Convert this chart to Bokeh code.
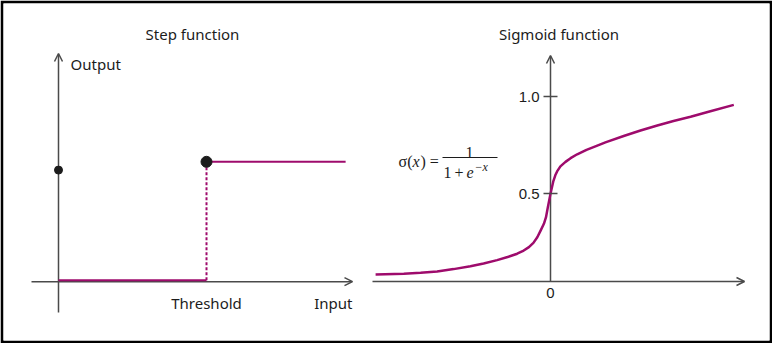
from bokeh.plotting import figure
from bokeh.models import (Range1d, LinearAxis, FixedTicker, NumeralTickFormatter,
                          Arrow, OpenHead, Label)
from bokeh.embed import file_html
from bokeh.resources import INLINE

# ---------------- data ----------------
# Step function
step_x = [0.0, 1.0, 1.0, 1.94]
step_y = [0.0, 0.0, 1.0, 1.0]
threshold_x = 1.0
output_dot_y = 0.93

# Sigmoid function
sig_x = [-5.83, -4.89, -4.33, -3.78, -3.23, -2.67, -2.23, -1.78, -1.43, -1.11,
         -0.93, -0.72, -0.57, -0.44, -0.33, -0.22, -0.15, -0.09, 0.0, 0.09,
         0.16, 0.22, 0.33, 0.5, 0.67, 0.89, 1.2, 1.56, 1.83, 2.44, 3.0,
         3.56, 4.1, 4.67, 5.33, 6.11]
sig_y = [0.085, 0.089, 0.094, 0.101, 0.113, 0.128, 0.142, 0.159, 0.175, 0.192,
         0.205, 0.226, 0.248, 0.277, 0.311, 0.346, 0.380, 0.43, 0.5, 0.562,
         0.595, 0.615, 0.641, 0.664, 0.683, 0.703, 0.726, 0.748, 0.764, 0.797, 0.825,
         0.851, 0.874, 0.896, 0.924, 0.957]
sig_yticks = [0.5, 1.0]
sig_xticks = [0.0]

# ---------------- geometry ----------------
W, H, B = 772, 343, 3
S_OX, S_OY, S_PX, S_PY = 58.0, 279.7, 148.0, 118.4   # step panel
G_OX, G_OY, G_PX, G_PY = 550.0, 290.6, 30.0, 194.6   # sigmoid panel


def xr(ox, ppu):
    return Range1d((B - ox) / ppu, (W - B - ox) / ppu)


def yr(oy, ppu):
    return Range1d((oy - (H - B)) / ppu, (oy - B) / ppu)


def sx(px): return (px - S_OX) / S_PX
def sy(py): return (S_OY - py) / S_PY
def gx(px): return (px - G_OX) / G_PX
def gy(py): return (G_OY - py) / G_PY


MAG = "#9e0b6c"
AX = "#4a4a4a"
DOT = "#1c1c1c"
TXT = "#1c1c1c"
SANS = "Noto Sans"
SERIF = "Liberation Serif"

p = figure(width=W, height=H, x_range=xr(S_OX, S_PX), y_range=yr(S_OY, S_PY),
           x_axis_type=None, y_axis_type=None, toolbar_location=None,
           output_backend="svg", min_border=B, border_fill_color="black",
           background_fill_color="white", outline_line_color=None)
p.extra_x_ranges = {"gx": xr(G_OX, G_PX)}
p.extra_y_ranges = {"gy": yr(G_OY, G_PY)}
G = dict(x_range_name="gx", y_range_name="gy")


def arrow(x0, y0, x1, y1, head=True, width=1.5, color=AX, **rn):
    end = OpenHead(size=8, line_color=color, line_width=width) if head else None
    p.add_layout(Arrow(end=end, x_start=x0, y_start=y0, x_end=x1, y_end=y1,
                       line_color=color, line_width=width, level="underlay", **rn))


def label(x, y, text, size="15px", font=SANS, align="center", baseline="middle",
          style="normal", **rn):
    p.add_layout(Label(x=x, y=y, text=text, text_align=align, text_baseline=baseline,
                       text_font=font, text_font_size=size, text_font_style=style,
                       text_color=TXT, **rn))


# ---------------- step panel ----------------
arrow(sx(31), sy(281.2), sx(352), sy(281.2))
arrow(0, sy(312), 0, sy(53))

p.line(step_x[:2], step_y[:2], line_color=MAG, line_width=2)
p.line(step_x[1:3], step_y[1:3], line_color=MAG, line_width=2, line_dash="3 2")
p.line(step_x[2:], step_y[2:], line_color=MAG, line_width=2)
p.scatter([threshold_x], [step_y[2]], size=11, color=DOT)
p.scatter([step_x[0]], [output_dot_y], size=8, color=DOT)

label(sx(192), sy(33), "Step function")
label(sx(70), sy(63), "Output", align="left")
label(threshold_x, sy(302), "Threshold")
label(sx(352), sy(302), "Input", align="right")

# ---------------- sigmoid panel ----------------
arrow(gx(372), gy(281), gx(744), gy(281), **G)
arrow(0, gy(281), 0, gy(55), **G)

p.line(sig_x, sig_y, line_color=MAG, line_width=2.5, line_join="round", **G)

yax = LinearAxis(fixed_location=0, ticker=FixedTicker(ticks=sig_yticks),
                 formatter=NumeralTickFormatter(format="0.0"),
                 axis_line_color=None, major_tick_in=7, major_tick_out=7,
                 major_tick_line_color=AX, major_tick_line_width=1.5,
                 minor_tick_line_color=None, major_label_standoff=4,
                 major_label_text_font="Liberation Sans",
                 major_label_text_font_size="15px", major_label_text_color=TXT, **G)
p.add_layout(yax, "left")

xax = LinearAxis(fixed_location=gy(281), ticker=FixedTicker(ticks=sig_xticks),
                 formatter=NumeralTickFormatter(format="0"),
                 axis_line_color=None, major_tick_in=0, major_tick_out=0,
                 minor_tick_line_color=None, major_label_standoff=6,
                 major_label_text_font="Liberation Sans",
                 major_label_text_font_size="15px", major_label_text_color=TXT, **G)
p.add_layout(xax, "below")

label(gx(558.5), gy(33), "Sigmoid function", **G)

# formula  sigma(x) = 1 / (1 + e^-x)
label(gx(412), gy(161), "σ(", size="16px", font=SERIF, align="right",
      baseline="alphabetic", **G)
label(gx(412), gy(161), "x", size="16px", font=SERIF, align="left",
      baseline="alphabetic", style="italic", **G)
label(gx(420), gy(161), ") =", size="16px", font=SERIF, align="left",
      baseline="alphabetic", **G)
arrow(gx(442), gy(157), gx(497), gy(157), head=False, width=1, color=TXT, **G)
label(gx(469), gy(152), "1", size="16px", font=SERIF, baseline="alphabetic", **G)
label(gx(443), gy(172), "1", size="16px", font=SERIF, align="left",
      baseline="alphabetic", **G)
label(gx(454), gy(172), "+", size="16px", font=SERIF, align="left",
      baseline="alphabetic", **G)
label(gx(466), gy(172), "e", size="16px", font=SERIF, align="left",
      baseline="alphabetic", style="italic", **G)
label(gx(474), gy(166), "−x", size="12px", font=SERIF, align="left",
      baseline="alphabetic", style="italic", **G)

open("out.html", "w").write(file_html(p, INLINE))
